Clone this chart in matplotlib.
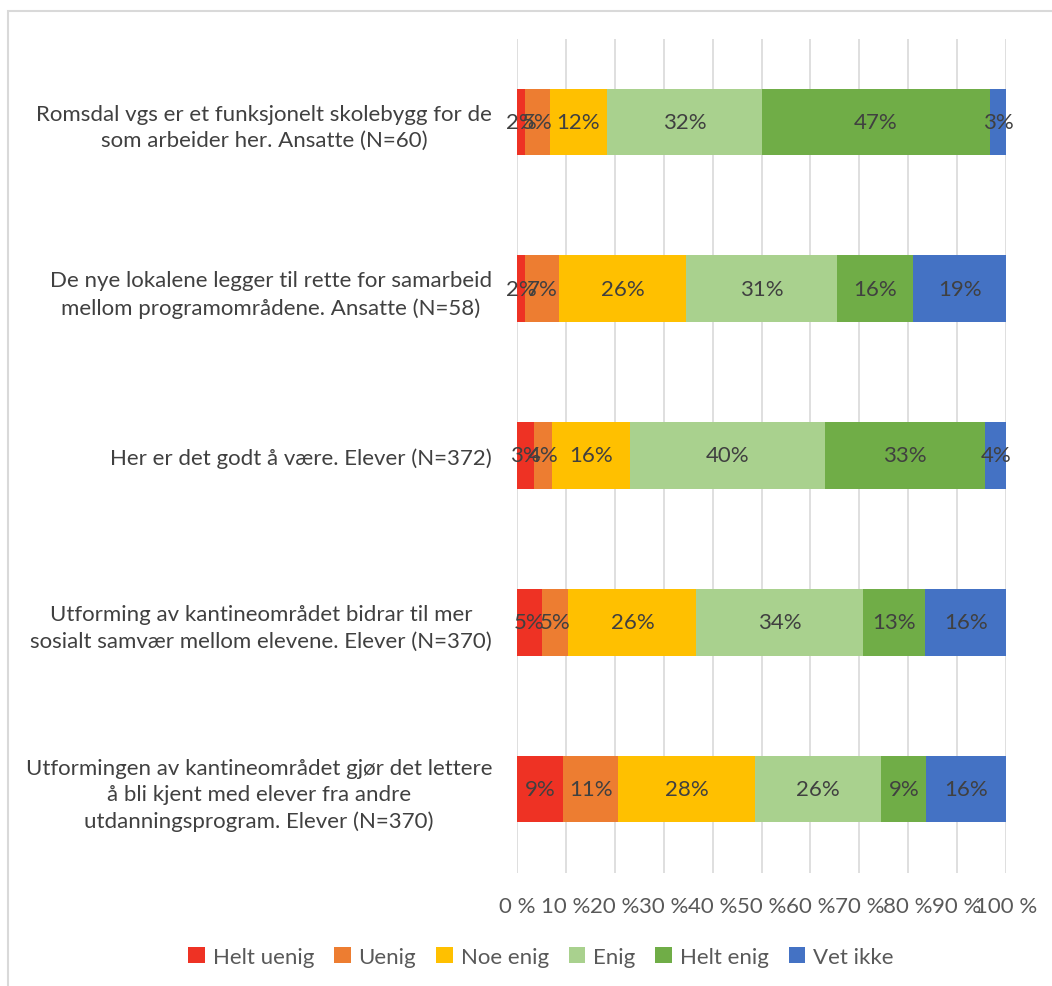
import matplotlib.pyplot as plt
from matplotlib.patches import Rectangle
import numpy as np

plt.rcParams['font.family'] = ['Lato', 'DejaVu Sans']

questions = [
    "Romsdal vgs er et funksjonelt skolebygg for de\nsom arbeider her. Ansatte (N=60)",
    "De nye lokalene legger til rette for samarbeid\nmellom programområdene. Ansatte (N=58)",
    "Her er det godt å være. Elever (N=372)",
    "Utforming av kantineområdet bidrar til mer\nsosialt samvær mellom elevene. Elever (N=370)",
    "Utformingen av kantineområdet gjør det lettere\nå bli kjent med elever fra andre\nutdanningsprogram. Elever (N=370)",
]
categories = ["Helt uenig", "Uenig", "Noe enig", "Enig", "Helt enig", "Vet ikke"]
colors = ["#EE3224", "#ED7D31", "#FFC000", "#A9D18E", "#70AD47", "#4472C4"]

helt_uenig = [1.7, 1.7, 3.4, 5.1, 9.4]
uenig = [5.0, 6.9, 3.8, 5.4, 11.3]
noe_enig = [11.7, 25.9, 16.0, 26.2, 27.9]
enig = [31.7, 31.0, 39.7, 34.1, 25.9]
helt_enig = [46.6, 15.5, 32.9, 12.7, 9.2]
vet_ikke = [3.3, 19.0, 4.2, 16.5, 16.3]
series = [helt_uenig, uenig, noe_enig, enig, helt_enig, vet_ikke]

fig = plt.figure(figsize=(10.52, 9.87), dpi=100)
fig.patches.append(Rectangle((8 / 1052, -0.05), 1.1, (987 - 12) / 987 + 0.05,
                             transform=fig.transFigure, fill=False,
                             edgecolor="#d9d9d9", lw=1.5))
ax = fig.add_axes([517 / 1052, 1 - 873.5 / 987, 489 / 1052, 834 / 987])

y = np.arange(len(questions))
left = np.zeros(len(questions))
for cat, vals, c in zip(categories, series, colors):
    vals = np.array(vals)
    ax.barh(y, vals, left=left, height=0.4, color=c, label=cat, zorder=2)
    for yi, l, v in zip(y, left, vals):
        ax.text(l + v / 2, yi, f"{round(v):.0f}%", ha="center", va="center",
                fontsize=16, color="#404040", zorder=3)
    left += vals

ax.set_xlim(0, 100)
ax.set_ylim(len(questions) - 0.5, -0.5)
ax.set_xticks(np.arange(0, 101, 10))
ax.set_xticklabels([f"{t} %" for t in range(0, 101, 10)], fontsize=16, color="#595959")
ax.set_yticks(y)
ax.set_yticklabels(questions, fontsize=16, color="#404040", ha="right",
                   multialignment="center", linespacing=1.4)
ax.tick_params(axis="y", length=0, pad=18)
ax.tick_params(axis="x", length=0, pad=17)
ax.grid(axis="x", color="#d9d9d9", lw=1.2, zorder=0)
for s in ax.spines.values():
    s.set_visible(False)

fig.legend(loc="center", bbox_to_anchor=(541 / 1052, 1 - 958 / 987), ncol=6,
           frameon=False, fontsize=16, labelcolor="#595959", handlelength=0.75,
           handleheight=0.75, handletextpad=0.35, columnspacing=0.9)

fig.savefig("out.png", dpi=100)
